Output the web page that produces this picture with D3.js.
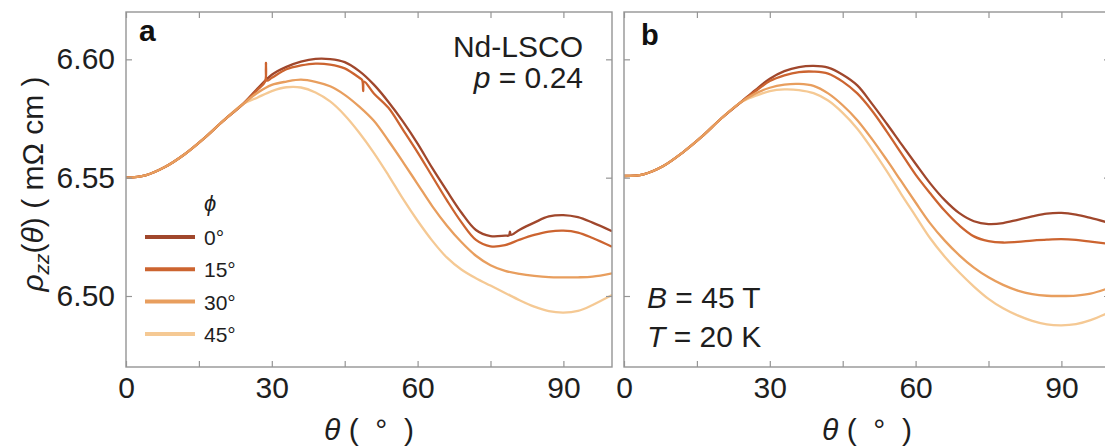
<!DOCTYPE html>
<html><head><meta charset="utf-8">
<script src="https://cdn.jsdelivr.net/npm/d3@7"></script>
<style>
body{margin:0;background:#fff}
svg{display:block;font-family:"Liberation Sans",Arial,Helvetica,sans-serif}
text{white-space:pre}
</style>
</head><body>
<svg id="chart" width="1105" height="446"></svg>
<script>
// ---------- data ----------
const theta = [0,4,8,12,16,20,24,27,30,33,36,39,42,45,48,51,54,57,60,63,66,69,72,75,78,81,84,87,90,93,96,100];
const phiLabels = ["0°","15°","30°","45°"];
const xTickValues = [0,15,30,45,60,75,90];
const xTickLabels = [0,30,60,90];
const yTickValues = [6.50,6.55,6.60];

// panel a (Nd-LSCO p = 0.24), values of rho_zz in mOhm cm
const a0  = [6.5500,6.5510,6.5545,6.5598,6.5665,6.5740,6.5810,6.5875,6.5935,6.5968,6.5990,6.6002,6.6001,6.5988,6.5950,6.5893,6.5820,6.5737,6.5644,6.5541,6.5445,6.5353,6.5279,6.5253,6.5255,6.5280,6.5310,6.5336,6.5342,6.5333,6.5310,6.5274];
const a15 = [6.5500,6.5510,6.5545,6.5598,6.5665,6.5740,6.5810,6.5870,6.5922,6.5958,6.5974,6.5982,6.5978,6.5962,6.5922,6.5856,6.5795,6.5702,6.5607,6.5506,6.5405,6.5312,6.5237,6.5210,6.5215,6.5238,6.5258,6.5272,6.5276,6.5268,6.5245,6.5208];
const a30 = [6.5500,6.5510,6.5545,6.5598,6.5665,6.5740,6.5810,6.5858,6.5892,6.5906,6.5914,6.5905,6.5886,6.5850,6.5800,6.5740,6.5656,6.5566,6.5473,6.5380,6.5298,6.5228,6.5170,6.5130,6.5106,6.5093,6.5085,6.5080,6.5079,6.5079,6.5082,6.5096];
const a45 = [6.5500,6.5510,6.5545,6.5598,6.5665,6.5740,6.5810,6.5838,6.5866,6.5882,6.5881,6.5860,6.5822,6.5764,6.5690,6.5605,6.5510,6.5410,6.5318,6.5234,6.5163,6.5112,6.5075,6.5044,6.5013,6.4982,6.4955,6.4936,6.4930,6.4937,6.4962,6.5004];
// measurement glitches visible in panel a
const spikeA15 = [[28.6,6.5905],[28.8,6.5985],[29.0,6.5910],[48.6,6.5912],[48.8,6.5866],[49.0,6.5906]];
const spikeA0  = [[78.8,6.5256],[79.0,6.5272],[79.2,6.5258]];

// panel b (B = 45 T, T = 20 K)
const b0  = [6.5507,6.5514,6.5548,6.5605,6.5673,6.5750,6.5818,6.5870,6.5918,6.5950,6.5967,6.5972,6.5965,6.5935,6.5890,6.5813,6.5730,6.5644,6.5559,6.5476,6.5405,6.5350,6.5316,6.5304,6.5308,6.5322,6.5336,6.5348,6.5351,6.5344,6.5330,6.5308];
const b15 = [6.5507,6.5514,6.5548,6.5605,6.5673,6.5750,6.5818,6.5865,6.5908,6.5932,6.5946,6.5948,6.5940,6.5906,6.5856,6.5784,6.5697,6.5605,6.5513,6.5434,6.5360,6.5298,6.5252,6.5232,6.5226,6.5229,6.5234,6.5238,6.5240,6.5237,6.5230,6.5220];
const b30 = [6.5507,6.5514,6.5548,6.5605,6.5673,6.5750,6.5818,6.5855,6.5880,6.5893,6.5896,6.5888,6.5856,6.5806,6.5743,6.5664,6.5577,6.5486,6.5395,6.5307,6.5234,6.5172,6.5120,6.5079,6.5047,6.5023,6.5008,6.5001,6.5000,6.5002,6.5010,6.5035];
const b45 = [6.5507,6.5514,6.5548,6.5605,6.5673,6.5750,6.5818,6.5845,6.5866,6.5873,6.5870,6.5857,6.5826,6.5774,6.5707,6.5622,6.5530,6.5432,6.5338,6.5244,6.5166,6.5099,6.5040,6.4988,6.4948,6.4918,6.4895,6.4880,6.4876,6.4881,6.4898,6.4932];

// ---------- styling ----------
const colors = ["#a0472c","#cc6430","#e89e5e","#f5c994"];
const frameColor = "#959595";
const textColor = "#1e1e1e";
const FS = 30;

const svg = d3.select("#chart");
const yTop = 12, yBottom = 367;
const y = d3.scaleLinear().domain([6.47, 6.62]).range([yBottom, yTop]);

function build(vals, extra){
  const pts = theta.map((t,i)=>[t, vals[i]]);
  if (extra) extra.forEach(p=>pts.push(p));
  pts.sort((p,q)=>p[0]-q[0]);
  return pts;
}

const panels = [
  {left:126, right:612, series:[build(a0,spikeA0), build(a15,spikeA15), build(a30), build(a45)], yLabels:true},
  {left:624, right:1110, series:[build(b0), build(b15), build(b30), build(b45)], yLabels:false}
];

const drawOrder = [3,0,1,2];

panels.forEach((p, pi)=>{
  const x = d3.scaleLinear().domain([0,100]).range([p.left, p.right]);
  const g = svg.append("g");
  const clipId = "clip"+pi;
  svg.append("clipPath").attr("id", clipId).append("rect")
    .attr("x", p.left).attr("y", yTop).attr("width", p.right-p.left).attr("height", yBottom-yTop);

  const line = d3.line().x(d=>x(d[0])).y(d=>y(d[1])).curve(d3.curveCatmullRom.alpha(0.5));
  const lg = g.append("g").attr("clip-path", `url(#${clipId})`);
  drawOrder.forEach(si=>{
    lg.append("path").datum(p.series[si])
      .attr("d", line).attr("fill","none")
      .attr("stroke", colors[si]).attr("stroke-width", 2.3)
      .attr("stroke-linejoin","round");
  });

  const fmtX = d => xTickLabels.includes(d) ? d : "";
  const axB = d3.axisBottom(x).tickValues(xTickValues).tickSize(-6).tickPadding(10).tickFormat(fmtX);
  const axT = d3.axisTop(x).tickValues(xTickValues).tickSize(-6).tickFormat("");
  const axL = d3.axisLeft(y).tickValues(yTickValues).tickSize(-6).tickPadding(11)
      .tickFormat(p.yLabels ? d3.format(".2f") : "");
  const axR = d3.axisRight(y).tickValues(yTickValues).tickSize(-6).tickFormat("");

  const gb = g.append("g").attr("transform",`translate(0,${yBottom})`).call(axB);
  const gt = g.append("g").attr("transform",`translate(0,${yTop})`).call(axT);
  const gl = g.append("g").attr("transform",`translate(${p.left},0)`).call(axL);
  const gr = g.append("g").attr("transform",`translate(${p.right},0)`).call(axR);
  [gb,gt,gl,gr].forEach(a=>{
    a.select(".domain").remove();
    a.selectAll("line").attr("stroke", frameColor).attr("stroke-width",1.2);
    a.selectAll("text").attr("fill", textColor).style("font-size", FS+"px")
      .style("font-family",'"Liberation Sans",Arial,sans-serif');
  });

  g.append("rect").attr("x",p.left).attr("y",yTop)
    .attr("width",p.right-p.left).attr("height",yBottom-yTop)
    .attr("fill","none").attr("stroke",frameColor).attr("stroke-width",1.4);

  const xt = g.append("text").attr("x",(p.left+p.right)/2).attr("y",440)
    .attr("text-anchor","middle").attr("fill",textColor).style("font-size",FS+"px");
  xt.append("tspan").attr("font-style","italic").text("θ");
  xt.append("tspan").text(" (  °  )");
});

// y title
const yt = svg.append("text").attr("transform","translate(43,184) rotate(-90)")
  .attr("text-anchor","middle").attr("fill",textColor).style("font-size",FS+"px");
yt.append("tspan").attr("font-style","italic").text("ρ");
yt.append("tspan").attr("font-style","italic").style("font-size","21px").attr("dy",6).text("zz");
yt.append("tspan").attr("dy",-6).text("(");
yt.append("tspan").attr("font-style","italic").text("θ");
yt.append("tspan").text(") ( mΩ cm )");

// panel labels
svg.append("text").attr("x",139).attr("y",41).attr("font-weight","bold")
  .attr("fill","#111").style("font-size","30px").text("a");
svg.append("text").attr("x",641).attr("y",45).attr("font-weight","bold")
  .attr("fill","#111").style("font-size","29px").text("b");

// annotations panel a
svg.append("text").attr("x",583).attr("y",57).attr("text-anchor","end")
  .attr("fill",textColor).style("font-size","30px").text("Nd-LSCO");
const pt = svg.append("text").attr("x",583).attr("y",88).attr("text-anchor","end")
  .attr("fill",textColor).style("font-size","30px");
pt.append("tspan").attr("font-style","italic").text("p");
pt.append("tspan").text(" = 0.24");

// annotations panel b
const bt = svg.append("text").attr("x",647).attr("y",308).attr("fill",textColor).style("font-size","30px");
bt.append("tspan").attr("font-style","italic").text("B");
bt.append("tspan").text(" = 45 T");
const tt = svg.append("text").attr("x",647).attr("y",347).attr("fill",textColor).style("font-size","30px");
tt.append("tspan").attr("font-style","italic").text("T");
tt.append("tspan").text(" = 20 K");

// legend
const lgd = svg.append("g");
lgd.append("text").attr("x",204).attr("y",211).attr("font-style","italic")
  .attr("fill",textColor).style("font-size","22px").text("ϕ");
phiLabels.forEach((lab,i)=>{
  const yy = 237 + i*32.3;
  lgd.append("line").attr("x1",145).attr("x2",195).attr("y1",yy).attr("y2",yy)
    .attr("stroke",colors[i]).attr("stroke-width",4);
  lgd.append("text").attr("x",204).attr("y",yy+8).attr("fill",textColor)
    .style("font-size","21px").text(lab);
});
</script>
</body></html>
